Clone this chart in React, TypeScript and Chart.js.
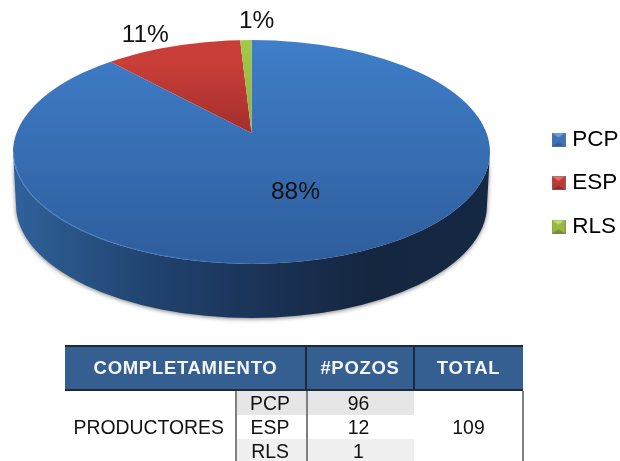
import React, { useEffect, useRef } from "react";
import { Chart, registerables } from "chart.js";

Chart.register(...registerables);

const categories = ["PCP", "ESP", "RLS"];
const wells = [96, 12, 1];
const rowGroup = "PRODUCTORES";
const headers = ["COMPLETAMIENTO", "#POZOS", "TOTAL"];
const total = wells.reduce((a, b) => a + b, 0);

const legendColors = ["#3b74b8", "#bb3a36", "#97b93f"];
const legendLight = ["#6fa3dc", "#e0706a", "#c6e070"];
const legendDark = ["#2c5a94", "#8f2a28", "#74922e"];
const gradientStops = [
  { from: 40, to: 265, c0: "#3f7ec9", c1: "#2e5d9c" },
  { from: 62, to: 133, c0: "#c93e39", c1: "#a32e2c" },
  { from: 40, to: 133, c0: "#a4ca48", c1: "#8cb03a" },
];
const labelOffsets = [
  { r: 120, dx: 0, dy: 7 },
  { r: 240, dx: -12, dy: 6 },
  { r: 240, dx: 12, dy: 1 },
];

// Projection of the pie on the page (tilted disc in perspective)
const P = { cx: 251.5, cy: 152, rx: 238.5, ry: 112, apexY: 133, radius: 300, depth: 54 };
const squash = P.ry / P.rx;

function pieFrame(chart: any) {
  const a = chart.chartArea;
  const R = Math.min(a.right - a.left, a.bottom - a.top) / 2;
  const k = P.radius / R;
  return { x: (a.left + a.right) / 2, y: (a.top + a.bottom) / 2, k };
}

function bevelIcon(i: number) {
  const s = 14;
  const c = document.createElement("canvas");
  c.width = s;
  c.height = s;
  const x = c.getContext("2d") as CanvasRenderingContext2D;
  x.fillStyle = legendColors[i];
  x.fillRect(0, 0, s, s);
  const tri = (pts: number[][], col: string) => {
    x.beginPath();
    pts.forEach((p, n) => (n ? x.lineTo(p[0], p[1]) : x.moveTo(p[0], p[1])));
    x.closePath();
    x.fillStyle = col;
    x.fill();
  };
  tri([[0, 0], [s, 0], [s / 2, 5]], legendLight[i]);
  tri([[0, s], [s, s], [s / 2, s - 4]], legendDark[i]);
  x.strokeStyle = "rgba(120,120,120,0.45)";
  x.strokeRect(0.5, 0.5, s - 1, s - 1);
  return c;
}

const pie3d = {
  id: "pie3d",
  afterLayout(chart: any) {
    const shift = 556 - (chart.legend.left + 21);
    chart.legend.left += shift;
    chart.legend.right += shift;
  },
  beforeDatasetsDraw(chart: any) {
    const ctx = chart.ctx;
    const f = pieFrame(chart);
    const botRx = P.rx - 3;
    const botY = P.cy + P.depth - 1;
    const wall = () => {
      ctx.beginPath();
      ctx.ellipse(P.cx, P.cy, P.rx, P.ry, 0, Math.PI, 0, true);
      ctx.lineTo(P.cx + botRx, botY);
      ctx.ellipse(P.cx, botY, botRx, P.ry + 1, 0, 0, Math.PI, false);
      ctx.closePath();
    };
    const g = ctx.createLinearGradient(P.cx - P.rx, 0, P.cx + P.rx, 0);
    g.addColorStop(0, "#2f629c");
    g.addColorStop(0.12, "#295587");
    g.addColorStop(0.3, "#20426e");
    g.addColorStop(0.55, "#1a3153");
    g.addColorStop(0.75, "#15263f");
    g.addColorStop(1, "#152844");
    ctx.save();
    ctx.shadowColor = "rgba(60,60,60,0.65)";
    ctx.shadowBlur = 4;
    ctx.shadowOffsetY = 1;
    wall();
    ctx.fillStyle = g;
    ctx.fill();
    ctx.restore();

    ctx.save();
    ctx.beginPath();
    ctx.ellipse(P.cx, P.cy, P.rx, P.ry, 0, 0, Math.PI * 2);
    ctx.clip();
    ctx.translate(P.cx, P.apexY);
    ctx.scale(f.k, f.k * squash);
    ctx.translate(-f.x, -f.y);
  },
  afterDatasetsDraw(chart: any) {
    const ctx = chart.ctx;
    ctx.restore();

    const edge = ctx.createLinearGradient(P.cx - P.rx, 0, P.cx + 80, 0);
    edge.addColorStop(0, "rgba(90,150,225,0.7)");
    edge.addColorStop(1, "rgba(90,150,225,0)");
    ctx.save();
    ctx.beginPath();
    ctx.ellipse(P.cx, P.cy, P.rx - 0.5, P.ry - 0.5, 0, Math.PI, 0, true);
    ctx.strokeStyle = edge;
    ctx.lineWidth = 1;
    ctx.stroke();
    ctx.restore();

    const arcs = chart.getDatasetMeta(0).data;
    ctx.save();
    ctx.font = "24.5px 'Liberation Sans'";
    ctx.fillStyle = "#111";
    ctx.textAlign = "center";
    ctx.textBaseline = "middle";
    arcs.forEach((arc: any, i: number) => {
      const o = labelOffsets[i];
      const mid = (arc.startAngle + arc.endAngle) / 2;
      const x = P.cx + o.r * Math.cos(mid) + o.dx;
      const y = P.apexY + o.r * squash * Math.sin(mid) + o.dy;
      ctx.fillText(`${Math.round((wells[i] / total) * 100)}%`, x, y);
    });
    ctx.restore();
  },
};

const box = (l: number, t: number, w: number, h: number, extra: React.CSSProperties = {}): React.CSSProperties => ({
  position: "absolute",
  left: l,
  top: t,
  width: w,
  height: h,
  lineHeight: `${h}px`,
  textAlign: "center",
  boxSizing: "border-box",
  ...extra,
});

export default function App() {
  const ref = useRef<HTMLCanvasElement>(null);
  useEffect(() => {
    const icons = categories.map((_, i) => bevelIcon(i));
    const chart = new Chart(ref.current as HTMLCanvasElement, {
      type: "pie",
      data: {
        labels: categories,
        datasets: [
          {
            data: wells,
            clip: false,
            borderWidth: 0,
            backgroundColor: (c: any) => {
              const s = gradientStops[c.dataIndex];
              if (!s || !c.chart.chartArea) return legendColors[c.dataIndex ?? 0];
              const f = pieFrame(c.chart);
              const toPie = (Y: number) => f.y + (Y - P.apexY) / (f.k * squash);
              const g = c.chart.ctx.createLinearGradient(0, toPie(s.from), 0, toPie(s.to));
              g.addColorStop(0, s.c0);
              g.addColorStop(1, s.c1);
              return g;
            },
          } as any,
        ],
      },
      options: {
        responsive: false,
        animation: false,
        layout: { padding: { bottom: 95 } },
        plugins: {
          tooltip: { enabled: false },
          legend: {
            position: "right",
            labels: {
              color: "#111",
              font: { family: "'Liberation Sans'", size: 22.5 },
              usePointStyle: true,
              pointStyleWidth: 5,
              boxHeight: 14,
              padding: 21,
              generateLabels: () =>
                categories.map((text, i) => ({
                  text,
                  fillStyle: legendColors[i],
                  strokeStyle: "rgba(0,0,0,0)",
                  lineWidth: 0,
                  hidden: false,
                  index: i,
                  pointStyle: icons[i],
                })),
            },
          },
        },
      },
      plugins: [pie3d],
    } as any);
    return () => chart.destroy();
  }, []);

  const font = "'Liberation Sans'";
  const headCell: React.CSSProperties = {
    color: "#f4f6fa",
    fontWeight: 700,
    fontSize: 18.5,
    letterSpacing: 0.7,
  };
  const rowTops = [391, 415, 439];
  const rowH = [24, 24, 24];
  const rowBg = ["#e6e6e6", "#ffffff", "#f0f0f0"];
  const bodySize = 19.4;
  return (
    <div style={{ position: "fixed", left: 0, top: 0, width: 620, height: 461, overflow: "hidden", background: "#fff", fontFamily: font, color: "#111" }}>
      <div style={{ position: "absolute", inset: 0, filter: "blur(0.45px)" }}>
        <canvas ref={ref} width={620} height={461} style={{ position: "absolute", left: 0, top: 0 }} />
        <div style={box(65, 345, 458, 46, { background: "#365f91", borderTop: "2px solid #1c2a3c", borderBottom: "2px solid #1c2a3c" })} />
        <div style={box(65, 345, 241, 46, headCell)}>{headers[0]}</div>
        <div style={box(306, 345, 108, 46, headCell)}>{headers[1]}</div>
        <div style={box(414, 345, 109, 46, headCell)}>{headers[2]}</div>
        <div style={box(305, 345, 2, 46, { background: "#1c2a3c" })} />
        <div style={box(413, 345, 2, 46, { background: "#1c2a3c" })} />
        {categories.map((c, i) => (
          <React.Fragment key={c}>
            <div style={box(236, rowTops[i], 178, rowH[i], { background: rowBg[i] })} />
            <div style={box(235, rowTops[i], 70, rowH[i], { fontSize: bodySize })}>{c}</div>
            <div style={box(305, rowTops[i], 107, rowH[i], { fontSize: bodySize })}>{wells[i]}</div>
          </React.Fragment>
        ))}
        <div style={box(50, 391, 185, 72, { fontSize: bodySize, textAlign: "right", paddingRight: 11 })}>{rowGroup}</div>
        <div style={box(415, 391, 107, 72, { fontSize: bodySize })}>{total}</div>
        <div style={box(234.5, 391, 2, 72, { background: "#808080" })} />
        <div style={box(305.5, 391, 2, 72, { background: "#808080" })} />
        <div style={box(522, 391, 1.5, 72, { background: "#808080" })} />
      </div>
    </div>
  );
}
